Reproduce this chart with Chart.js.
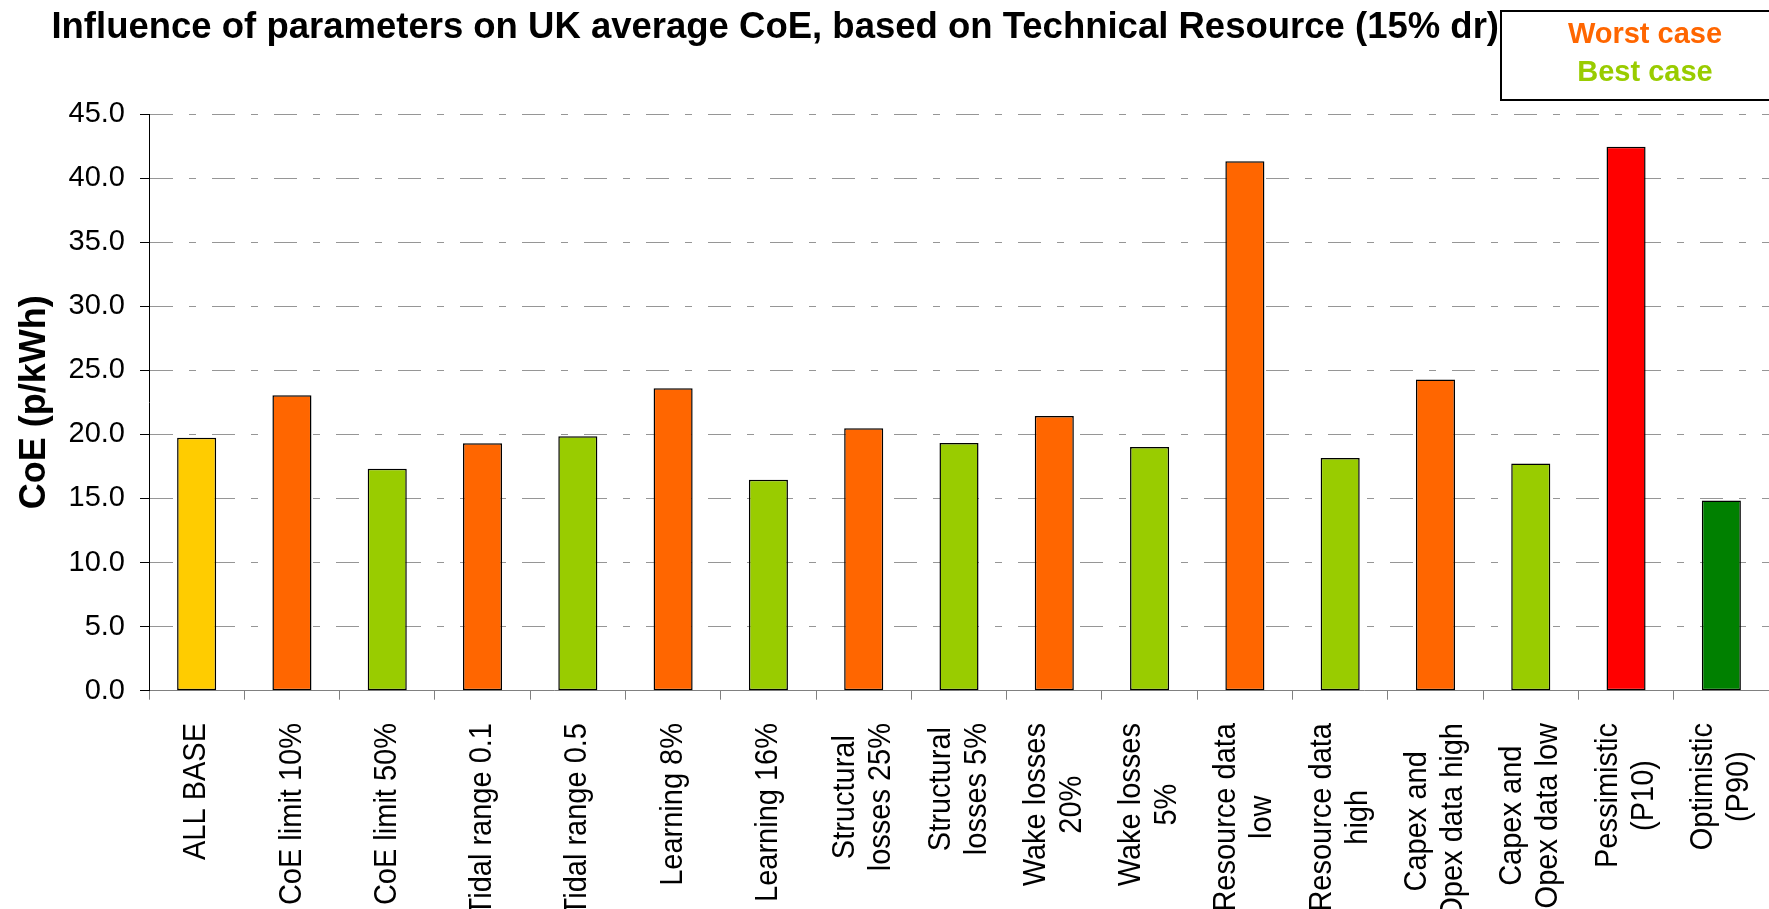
<!DOCTYPE html>
<html>
<head>
<meta charset="utf-8">
<script src="https://cdn.jsdelivr.net/npm/chart.js@4.4.1/dist/chart.umd.min.js"></script>
<style>
html,body{margin:0;padding:0;background:#fff;overflow:hidden}
#wrap{width:1769px;height:909px;position:relative}
</style>
</head>
<body>
<div id="wrap"><canvas id="c"></canvas></div>
<script>
const chartTitle = 'Influence of parameters on UK average CoE, based on Technical Resource (15% dr)';
const yAxisTitle = 'CoE (p/kWh)';
const categories = [
  ['ALL BASE'],
  ['CoE limit 10%'],
  ['CoE limit 50%'],
  ['Tidal range 0.1'],
  ['Tidal range 0.5'],
  ['Learning 8%'],
  ['Learning 16%'],
  ['Structural', 'losses 25%'],
  ['Structural', 'losses 5%'],
  ['Wake losses', '20%'],
  ['Wake losses', '5%'],
  ['Resource data', 'low'],
  ['Resource data', 'high'],
  ['Capex and', 'Opex data high'],
  ['Capex and', 'Opex data low'],
  ['Pessimistic', '(P10)'],
  ['Optimistic', '(P90)']
];
const coeValues = [19.74, 23.05, 17.31, 19.3, 19.85, 23.6, 16.46, 20.47, 19.33, 21.44, 19.02, 41.32, 18.16, 24.29, 17.72, 42.45, 14.84];
const caseTypes = ['base','worst','best','worst','best','worst','best','worst','best','worst','best','worst','best','worst','best','pessimistic','optimistic'];
const legendItems = ['Worst case', 'Best case'];
const yMin = 0, yMax = 45, yStep = 5;

const caseColors = {
  base: '#FFCC00',
  worst: '#FF6600',
  best: '#99CC00',
  pessimistic: '#FF0000',
  optimistic: '#008000'
};

const FONT = '"Liberation Sans", Arial, Helvetica, sans-serif';
Chart.defaults.font.family = FONT;
Chart.defaults.color = '#000';

const decorPlugin = {
  id: 'decor',
  afterDraw(chart) {
    const ctx = chart.ctx;
    const xs = chart.scales.x;
    ctx.save();
    // title
    ctx.fillStyle = '#000';
    ctx.font = 'bold 36.5px ' + FONT;
    ctx.textAlign = 'right';
    ctx.textBaseline = 'alphabetic';
    ctx.fillText(chartTitle, 1499, 38);
    // legend box
    ctx.lineWidth = 2;
    ctx.strokeStyle = '#000';
    ctx.strokeRect(1501, 11, 330, 89);
    ctx.font = 'bold 29px ' + FONT;
    ctx.textAlign = 'center';
    ctx.fillStyle = caseColors.worst;
    ctx.fillText(legendItems[0], 1645, 43);
    ctx.fillStyle = caseColors.best;
    ctx.fillText(legendItems[1], 1645, 81);
    // category labels, rotated, lines centred
    ctx.font = '29px ' + FONT;
    ctx.fillStyle = '#000';
    ctx.textBaseline = 'middle';
    ctx.textAlign = 'center';
    const lh = 36, end = 723, stretch = 1.07;
    categories.forEach((lines, i) => {
      const x = xs.getPixelForValue(i);
      const w = Math.max(...lines.map(l => ctx.measureText(l).width));
      ctx.save();
      ctx.translate(x, end + w / 2);
      ctx.rotate(-Math.PI / 2);
      ctx.scale(1, stretch);
      lines.forEach((l, j) => ctx.fillText(l, 0, (j - (lines.length - 1) / 2) * lh / stretch));
      ctx.restore();
    });
    ctx.restore();
  }
};

new Chart(document.getElementById('c'), {
  type: 'bar',
  data: {
    labels: categories,
    datasets: [{
      data: coeValues,
      backgroundColor: caseTypes.map(t => caseColors[t]),
      borderColor: '#000',
      borderWidth: 1.5,
      borderSkipped: false,
      barPercentage: 0.41,
      categoryPercentage: 1
    }]
  },
  options: {
    responsive: true,
    maintainAspectRatio: false,
    animation: false,
    layout: { padding: { top: 114, left: 0, right: 0, bottom: 0 } },
    plugins: {
      legend: { display: false },
      title: { display: false },
      tooltip: { enabled: false }
    },
    scales: {
      x: {
        offset: true,
        grid: { display: true, drawOnChartArea: false, drawTicks: true, tickLength: 9, tickColor: '#808080', tickWidth: 1, offset: true },
        border: { display: true, color: '#808080', width: 1 },
        ticks: { display: false },
        afterFit(s) { s.height = 218.3; }
      },
      y: {
        min: yMin,
        max: yMax,
        ticks: { stepSize: yStep, callback: v => Number(v).toFixed(1), font: { size: 29 }, color: '#000', padding: 15 },
        grid: { color: '#969696', lineWidth: 1, tickColor: '#000', tickLength: 9, drawTicks: true },
        border: { display: true, color: '#000', width: 1, dash: [23, 16, 7, 16] },
        title: { display: true, text: yAxisTitle, font: { size: 36, weight: 'bold' }, color: '#000', padding: { top: 13, bottom: 0 } },
        afterFit(s) { s.width = 149; }
      }
    }
  },
  plugins: [decorPlugin]
});
</script>
</body>
</html>
